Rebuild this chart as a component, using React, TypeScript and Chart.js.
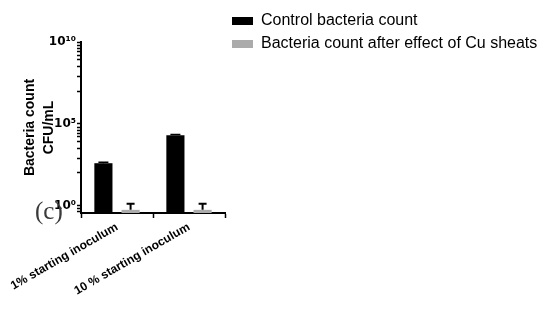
import React, { useEffect, useRef } from "react";
import { Chart, registerables } from "chart.js";

Chart.register(...registerables);

const categories = ["1% starting inoculum", "10 % starting inoculum"];
const seriesNames = ["Control bacteria count", "Bacteria count after effect of Cu sheats"];
const controlValues = [390, 20000];
const controlErrors = [55, 2500];
const cuValues = [0.55, 0.55];
const cuErrors = [0.77, 0.77];
const seriesColors = ["#000000", "#ababab"];

const yMin = 0.353;
const yMax = 1e10;
const yMajorExponents = [0, 5, 10];
const yMajorLabels = ["10⁰", "10⁵", "10¹⁰"];
const yMinorExponents = [9.8, 9.6, 9.4, 9.2, 8.9, 8.5, 7.9, 7.0, 4.8, 4.6, 4.4, 4.2, 3.9, 3.5, 2.9, 2.0, -0.16, -0.37];
const panelLabel = "(c)";

const errorBarPlugin = {
  id: "errorBars",
  afterDatasetsDraw(chart: any) {
    const ctx = chart.ctx;
    const yScale = chart.scales.y;
    chart.data.datasets.forEach((ds: any, di: number) => {
      const meta = chart.getDatasetMeta(di);
      if (meta.hidden) return;
      meta.data.forEach((el: any, i: number) => {
        const v = ds.data[i];
        const e = ds.errors[i];
        const yTop = yScale.getPixelForValue(v);
        const yErr = yScale.getPixelForValue(v + e);
        ctx.save();
        ctx.strokeStyle = "#000";
        ctx.lineWidth = ds.errLineWidth;
        ctx.beginPath();
        ctx.moveTo(el.x, yTop);
        ctx.lineTo(el.x, yErr);
        ctx.moveTo(el.x - ds.capWidth / 2, yErr);
        ctx.lineTo(el.x + ds.capWidth / 2, yErr);
        ctx.stroke();
        ctx.restore();
      });
    });
  },
};

// let the legend (kept narrow in the layout) draw its full text width
const legendWidenPlugin = {
  id: "legendWiden",
  afterLayout(chart: any) {
    const lg = chart.legend;
    if (lg) {
      lg.right = chart.width;
      lg.width = chart.width - lg.left;
    }
  },
};

const panelLabelPlugin = {
  id: "panelLabel",
  afterDraw(chart: any) {
    const ctx = chart.ctx;
    ctx.save();
    ctx.font = '25px "Liberation Serif", "Times New Roman", serif';
    ctx.fillStyle = "#3a3a3a";
    ctx.textBaseline = "alphabetic";
    ctx.textAlign = "left";
    ctx.fillText(panelLabel, 35, 219);
    ctx.restore();
  },
};

export default function App() {
  const canvasRef = useRef<HTMLCanvasElement | null>(null);

  useEffect(() => {
    if (!canvasRef.current) return;
    Chart.defaults.font.family = '"Liberation Sans", Arial, sans-serif';
    const tickValues = [
      ...yMajorExponents.map((e) => Math.pow(10, e)),
      ...yMinorExponents.map((e) => Math.pow(10, e)),
    ].sort((a, b) => a - b);

    const chart = new Chart(canvasRef.current, {
      type: "bar",
      data: {
        labels: categories,
        datasets: [
          {
            label: seriesNames[0],
            data: controlValues,
            backgroundColor: seriesColors[0],
            borderWidth: 0,
            errors: controlErrors,
            capWidth: 10,
            errLineWidth: 1.5,
            categoryPercentage: 0.755,
            barPercentage: 0.667,
          } as any,
          {
            label: seriesNames[1],
            data: cuValues,
            backgroundColor: seriesColors[1],
            borderWidth: 0,
            errors: cuErrors,
            capWidth: 8,
            errLineWidth: 2,
            categoryPercentage: 0.755,
            barPercentage: 0.667,
          } as any,
        ],
      },
      options: {
        animation: false,
        responsive: true,
        maintainAspectRatio: false,
        layout: { padding: { top: 6, right: 244, left: 0, bottom: 0 } },
        plugins: {
          tooltip: { enabled: false },
          title: {
            display: true,
            text: "",
            font: { size: 10 },
            padding: { top: 24, bottom: 0 },
          },
          legend: {
            display: true,
            position: "right",
            align: "start",
            labels: {
              color: "#000",
              font: { size: 16 },
              boxWidth: 21,
              boxHeight: 8,
              padding: 7,
            },
          },
        },
        scales: {
          x: {
            type: "category",
            offset: true,
            afterFit(scale: any) {
              scale.height = 113;
              scale.paddingLeft = 0;
              scale.paddingRight = 0;
            },
            grid: {
              display: true,
              drawOnChartArea: false,
              drawTicks: true,
              tickLength: 5,
              tickColor: "#000",
              tickWidth: 1.5,
            },
            border: { display: true, color: "#000", width: 2 },
            ticks: {
              color: "#000",
              font: { size: 12, weight: "bold" },
              minRotation: 30,
              maxRotation: 30,
              autoSkip: false,
              padding: 2,
            },
          },
          y: {
            type: "logarithmic",
            min: yMin,
            max: yMax,
            bounds: "data",
            afterFit(scale: any) {
              scale.width = 81;
            },
            afterBuildTicks(scale: any) {
              scale.ticks = tickValues.map((v) => ({ value: v }));
            },
            grid: {
              display: true,
              drawOnChartArea: false,
              drawTicks: true,
              tickLength: 4,
              tickColor: "#000",
              tickWidth: 1.5,
            },
            border: { display: true, color: "#000", width: 2 },
            ticks: {
              color: "#000",
              font: { size: 12, weight: "bold", family: '"DejaVu Sans", "Liberation Sans", sans-serif' },
              autoSkip: false,
              padding: 1,
              callback(value: any) {
                const ex = Math.round(Math.log10(Number(value)) * 100) / 100;
                const idx = yMajorExponents.indexOf(ex);
                return idx >= 0 ? yMajorLabels[idx] : "";
              },
            },
            title: {
              display: true,
              text: ["Bacteria count", "CFU/mL"],
              color: "#000",
              font: { size: 14, weight: "bold", lineHeight: 1.35 },
              padding: { top: 21, bottom: 0 },
            },
          },
        },
      },
      plugins: [errorBarPlugin, legendWidenPlugin, panelLabelPlugin],
    } as any);
    return () => chart.destroy();
  }, []);

  return (
    <div style={{ position: "fixed", left: 0, top: 0, width: 544, height: 326, background: "#fff" }}>
      <canvas ref={canvasRef} />
    </div>
  );
}
